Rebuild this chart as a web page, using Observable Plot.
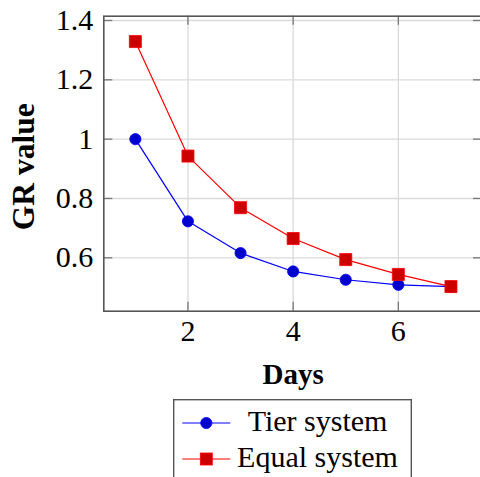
<!DOCTYPE html>
<html><head><meta charset="utf-8">
<script src="https://cdn.jsdelivr.net/npm/d3@7"></script>
<script src="https://cdn.jsdelivr.net/npm/@observablehq/plot@0.6"></script>
<style>
html,body{margin:0;padding:0;background:#fff;overflow:hidden;width:480px;height:477px}
#wrap{position:relative;width:480px;height:477px;overflow:hidden}
#chart svg{display:block}
#chart svg text, #legend text{font-family:"Liberation Serif","Times New Roman",serif !important}
#legend{position:absolute;left:172.5px;top:399px;width:239px;height:84px}
</style></head><body><div id="wrap"><div id="chart"></div><div id="legend"></div></div>
<script>
const days = [1, 2, 3, 4, 5, 6, 7];
const tierValues = [1.0, 0.723, 0.616, 0.554, 0.526, 0.509, 0.503];
const equalValues = [1.329, 0.943, 0.769, 0.665, 0.594, 0.544, 0.503];
const seriesNames = ["Tier system", "Equal system"];
const xTicks = [2, 4, 6];
const xTickLabels = ["2", "4", "6"];
const yTicks = [0.6, 0.8, 1, 1.2, 1.4];
const yTickLabels = ["0.6", "0.8", "1", "1.2", "1.4"];
const xTitle = "Days";
const yTitle = "GR value";

const rows = days.map((d, i) => ({day: d, tier: tierValues[i], equal: equalValues[i]}));

const W = 480, H = 395;
const mL = 103.3, mR = -2, mT = 15.7, mB = H - 310.7;
const xDom = [0.4, 7.6], yDom = [0.42, 1.4145];
const plotW = W - mL - mR, plotH = H - mT - mB;
const tickPx = 9;
const tX = tickPx / plotW * (xDom[1] - xDom[0]);
const tY = tickPx / plotH * (yDom[1] - yDom[0]);
const FONT = "Liberation Serif, Times New Roman, serif";
const blueLine = "#0000ff", blueFill = "#0000cc", redLine = "#ff0000", redFill = "#cc0000";
const gridColor = "#dadada", frameColor = "#555", tickColor = "#777";

const chart = Plot.plot({
  width: W, height: H,
  marginLeft: mL, marginRight: mR, marginTop: mT, marginBottom: mB,
  style: {fontFamily: FONT, color: "#000", background: "transparent", overflow: "hidden"},
  x: {domain: xDom, label: null},
  y: {domain: yDom, label: null},
  marks: [
    Plot.gridX(xTicks, {stroke: gridColor, strokeOpacity: 1, strokeWidth: 1.3}),
    Plot.gridY(yTicks, {stroke: gridColor, strokeOpacity: 1, strokeWidth: 1.3}),
    Plot.ruleX(xTicks, {x: d => d, y1: yDom[0], y2: yDom[0] + tY, stroke: tickColor, strokeWidth: 1.3}),
    Plot.ruleX(xTicks, {x: d => d, y1: yDom[1], y2: yDom[1] - tY, stroke: tickColor, strokeWidth: 1.3}),
    Plot.ruleY(yTicks, {y: d => d, x1: xDom[0], x2: xDom[0] + tX, stroke: tickColor, strokeWidth: 1.3}),
    Plot.ruleY(yTicks, {y: d => d, x1: xDom[1], x2: xDom[1] - tX, stroke: tickColor, strokeWidth: 1.3}),
    Plot.frame({stroke: frameColor, strokeWidth: 1.6}),
    Plot.axisX(xTicks, {tickSize: 0, tickPadding: 8.5, fontSize: 30, fontFamily: FONT, tickFormat: (d) => xTickLabels[xTicks.indexOf(d)], label: null}),
    Plot.axisY(yTicks, {tickSize: 0, tickPadding: 10.5, fontSize: 30, fontFamily: FONT, tickFormat: (d) => yTickLabels[yTicks.indexOf(d)], label: null}),
    Plot.line(rows, {x: "day", y: "tier", stroke: blueLine, strokeWidth: 1.2}),
    Plot.dot(rows, {x: "day", y: "tier", r: 5.6, fill: blueFill, stroke: blueLine, strokeWidth: 0.8}),
    Plot.line(rows, {x: "day", y: "equal", stroke: redLine, strokeWidth: 1.2}),
    Plot.dot(rows, {x: "day", y: "equal", symbol: "square", r: 6.8, fill: redFill, stroke: redLine, strokeWidth: 0.8}),
    Plot.text([xTitle], {frameAnchor: "bottom", dy: 63.8, text: d => d, fontSize: 29, fontWeight: "bold", fontFamily: FONT, lineAnchor: "middle", textAnchor: "middle", fill: "#000"}),
    Plot.text([yTitle], {frameAnchor: "left", dx: -79.5, dy: 3.1, rotate: -90, text: d => d, fontSize: 31.5, fontWeight: "bold", fontFamily: FONT, lineAnchor: "middle", textAnchor: "middle", fill: "#000"})
  ]
});
document.getElementById("chart").appendChild(chart);

// Legend (below the SVG)
const lg = d3.select("#legend").append("svg").attr("width", 239).attr("height", 84).style("display", "block");
lg.append("rect").attr("x", 0.7).attr("y", 0.7).attr("width", 237.6).attr("height", 90)
  .attr("fill", "#fff").attr("stroke", frameColor).attr("stroke-width", 1.4);
const legendItems = [
  {name: seriesNames[0], line: blueLine, fill: blueFill, shape: "circle"},
  {name: seriesNames[1], line: redLine, fill: redFill, shape: "square"}
];
legendItems.forEach((it, i) => {
  const cy = 24 + i * 36;
  const g = lg.append("g");
  g.append("line").attr("x1", 9.3).attr("x2", 57.3).attr("y1", cy).attr("y2", cy).attr("stroke", it.line).attr("stroke-width", 1.2);
  if (it.shape === "circle") {
    g.append("circle").attr("cx", 33.3).attr("cy", cy).attr("r", 5.6).attr("fill", it.fill).attr("stroke", it.line).attr("stroke-width", 0.8);
  } else {
    g.append("rect").attr("x", 33.3 - 6).attr("y", cy - 6).attr("width", 12).attr("height", 12).attr("fill", it.fill).attr("stroke", it.line).attr("stroke-width", 0.8);
  }
  g.append("text").attr("x", 144.5).attr("y", cy + 8).attr("text-anchor", "middle")
    .attr("font-family", FONT).attr("font-size", 30).attr("fill", "#000").text(it.name);
});
</script>
</body></html>
